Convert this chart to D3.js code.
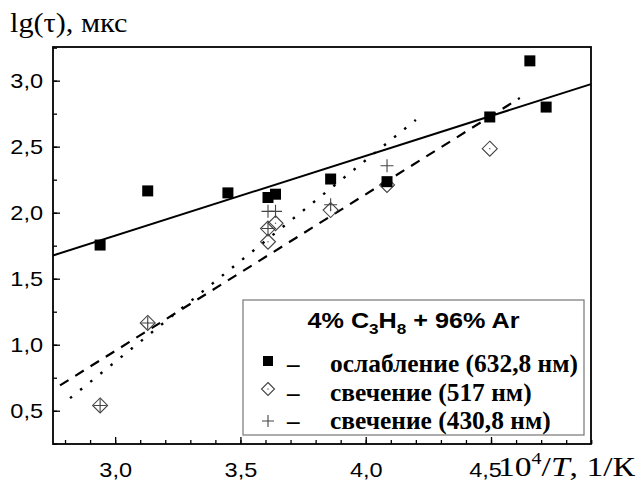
<!DOCTYPE html>
<html>
<head>
<meta charset="utf-8">
<script src="https://cdn.jsdelivr.net/npm/d3@7"></script>
<style>
  body { margin: 0; background: #fff; }
  svg { display: block; }
</style>
</head>
<body>
<div id="chart"></div>
<script>
const width = 639;
const height = 484;

// ослабление (632,8 нм) - black squares
const attX = [2.94, 3.13, 3.45, 3.61, 3.64, 3.86, 4.085, 4.495, 4.655, 4.72];
const attY = [1.755, 2.165, 2.15, 2.115, 2.14, 2.255, 2.235, 2.725, 3.15, 2.80];

// свечение (517 нм) - open diamonds
const g517X = [2.94, 3.13, 3.61, 3.61, 3.64, 3.86, 4.085, 4.495];
const g517Y = [0.54, 1.165, 1.78, 1.88, 1.92, 2.02, 2.21, 2.485];

// свечение (430,8 нм) - plus signs
const g430X = [2.94, 3.13, 3.61, 3.61, 3.64, 3.86, 4.085];
const g430Y = [0.54, 1.165, 1.88, 2.01, 2.01, 2.06, 2.355];

// fitted lines (end points)
const fitAttX = [2.752, 4.899];
const fitAttY = [1.676, 2.974];
const fit517X = [2.78, 4.615];
const fit517Y = [0.692, 2.869];
const fit430X = [2.82, 4.2];
const fit430Y = [0.595, 2.703];

// ticks
const xMajor = [3.0, 3.5, 4.0, 4.5];
const yMajor = [0.5, 1.0, 1.5, 2.0, 2.5, 3.0];

const legendItems = ["ослабление (632,8 нм)", "свечение (517 нм)", "свечение (430,8 нм)"];

const margin = { left: 53, right: 48, top: 47, bottom: 40 };

const svg = d3.select("#chart")
  .append("svg")
  .attr("width", width)
  .attr("height", height);

const x = d3.scaleLinear()
  .domain([2.752, 4.899])
  .range([margin.left, width - margin.right]);

const y = d3.scaleLinear()
  .domain([0.248, 3.255])
  .range([height - margin.bottom, margin.top]);

const fmt = d => d.toFixed(1).replace(".", ",");

// stretch text horizontally a bit, the source picture is wide
function stretch(sel, k) {
  sel.each(function() {
    const w = this.getComputedTextLength();
    d3.select(this).attr("textLength", w * k).attr("lengthAdjust", "spacingAndGlyphs");
  });
}

// minor ticks
svg.append("g")
  .attr("transform", `translate(0,${height - margin.bottom})`)
  .call(d3.axisBottom(x).tickValues(d3.range(2.8, 4.9, 0.1)).tickSize(-4).tickFormat(""))
  .call(g => g.select(".domain").remove());

svg.append("g")
  .attr("transform", `translate(${margin.left},0)`)
  .call(d3.axisLeft(y).tickValues(d3.range(0.25, 3.26, 0.25)).tickSize(-4).tickFormat(""))
  .call(g => g.select(".domain").remove());

// major ticks and labels
const xAxisG = svg.append("g")
  .attr("transform", `translate(0,${height - margin.bottom})`)
  .call(d3.axisBottom(x).tickValues(xMajor).tickSize(-7).tickPadding(18).tickFormat(fmt))
  .call(g => g.select(".domain").remove());

const yAxisG = svg.append("g")
  .attr("transform", `translate(${margin.left},0)`)
  .call(d3.axisLeft(y).tickValues(yMajor).tickSize(-7).tickPadding(10).tickFormat(fmt))
  .call(g => g.select(".domain").remove());

[xAxisG, yAxisG].forEach(g => {
  g.selectAll("text")
    .attr("fill", "#000")
    .style("font-family", "'Liberation Sans', Arial, sans-serif")
    .style("font-size", "21px");
});
svg.selectAll(".tick line").attr("stroke", "#000").attr("stroke-width", 1.3);
stretch(xAxisG.selectAll("text"), 1.12);
stretch(yAxisG.selectAll("text"), 1.12);
// last x label sits tight against the axis title
xAxisG.selectAll(".tick").filter(d => d === 4.5).select("text").attr("x", -6);

// frame
svg.append("rect")
  .attr("x", margin.left)
  .attr("y", margin.top)
  .attr("width", width - margin.left - margin.right)
  .attr("height", height - margin.top - margin.bottom)
  .attr("fill", "none")
  .attr("stroke", "#000")
  .attr("stroke-width", 1.8);

// fit lines
const line = d3.line().x(d => x(d[0])).y(d => y(d[1]));

svg.append("path")
  .datum(fitAttX.map((v, i) => [v, fitAttY[i]]))
  .attr("d", line)
  .attr("fill", "none")
  .attr("stroke", "#000")
  .attr("stroke-width", 2);

svg.append("path")
  .datum(fit517X.map((v, i) => [v, fit517Y[i]]))
  .attr("d", line)
  .attr("fill", "none")
  .attr("stroke", "#000")
  .attr("stroke-width", 2.2)
  .attr("stroke-dasharray", "10,8");

svg.append("path")
  .datum(fit430X.map((v, i) => [v, fit430Y[i]]))
  .attr("d", line)
  .attr("fill", "none")
  .attr("stroke", "#000")
  .attr("stroke-width", 2.4)
  .attr("stroke-dasharray", "2.5,10.5");

// markers
function drawDiamond(g, cx, cy, r) {
  g.append("path")
    .attr("d", `M${cx},${cy - r}L${cx + r},${cy}L${cx},${cy + r}L${cx - r},${cy}Z`)
    .attr("fill", "none")
    .attr("stroke", "#444")
    .attr("stroke-width", 1.1);
  g.append("rect")
    .attr("x", cx - 0.6).attr("y", cy - 0.6)
    .attr("width", 1.2).attr("height", 1.2)
    .attr("fill", "#555");
}

function drawPlus(g, cx, cy, r) {
  g.append("path")
    .attr("d", `M${cx - r},${cy}H${cx + r}M${cx},${cy - r}V${cy + r}`)
    .attr("stroke", "#444")
    .attr("stroke-width", 1.1);
}

const marks = svg.append("g");

g517X.forEach((v, i) => drawDiamond(marks, x(v), y(g517Y[i]), 7.5));
g430X.forEach((v, i) => drawPlus(marks, x(v), y(g430Y[i]), 6.5));

marks.selectAll(".sq")
  .data(attX.map((v, i) => [v, attY[i]]))
  .enter()
  .append("rect")
  .attr("class", "sq")
  .attr("x", d => x(d[0]) - 5.5)
  .attr("y", d => y(d[1]) - 5.5)
  .attr("width", 11)
  .attr("height", 11)
  .attr("fill", "#000");

// legend
const legend = svg.append("g");

legend.append("rect")
  .attr("x", 243)
  .attr("y", 300)
  .attr("width", 341)
  .attr("height", 135)
  .attr("fill", "#fff")
  .attr("stroke", "#777")
  .attr("stroke-width", 1.2);

const title = legend.append("text")
  .attr("x", 413.5)
  .attr("y", 328)
  .attr("text-anchor", "middle")
  .style("font-family", "'Liberation Sans', Arial, sans-serif")
  .style("font-weight", "bold")
  .style("font-size", "22px");
title.append("tspan").text("4% C");
title.append("tspan").attr("dy", 6).style("font-size", "15px").text("3");
title.append("tspan").attr("dy", -6).text("H");
title.append("tspan").attr("dy", 6).style("font-size", "15px").text("8");
title.append("tspan").attr("dy", -6).text(" + 96% Ar");
title.attr("textLength", 212).attr("lengthAdjust", "spacingAndGlyphs");

const rowBase = [372, 401, 429];
const markY = [361, 389, 421];

legend.append("rect")
  .attr("x", 268 - 5).attr("y", markY[0] - 5)
  .attr("width", 10).attr("height", 10)
  .attr("fill", "#000");
drawDiamond(legend, 268, markY[1], 6.5);
drawPlus(legend, 268, markY[2], 6);

let rowScale = null;
legendItems.forEach((t, i) => {
  legend.append("text")
    .attr("x", 287)
    .attr("y", rowBase[i])
    .style("font-family", "'Liberation Serif', 'Times New Roman', serif")
    .style("font-weight", "bold")
    .style("font-size", "25px")
    .text("–");
  const lt = legend.append("text")
    .attr("x", 330)
    .attr("y", rowBase[i])
    .style("font-family", "'Liberation Serif', 'Times New Roman', serif")
    .style("font-weight", "bold")
    .style("font-size", "25px")
    .text(t);
  if (rowScale === null) rowScale = 248 / lt.node().getComputedTextLength();
  stretch(lt, rowScale);
});

// axis titles
const yTitle = svg.append("text")
  .attr("x", 10)
  .attr("y", 32)
  .style("font-family", "'Liberation Serif', 'Times New Roman', serif")
  .style("font-size", "28px")
  .text("lg(τ), мкс");
stretch(yTitle, 1.08);

const xTitle = svg.append("text")
  .attr("x", 498)
  .attr("y", 476)
  .style("font-family", "'Liberation Serif', 'Times New Roman', serif")
  .style("font-size", "27px");
xTitle.append("tspan").text("10");
xTitle.append("tspan").attr("dy", -12).style("font-size", "16px").text("4");
xTitle.append("tspan").attr("dy", 12).text("/");
xTitle.append("tspan").style("font-style", "italic").text("T");
xTitle.append("tspan").text(", 1/К");
xTitle.attr("textLength", 137).attr("lengthAdjust", "spacingAndGlyphs");
</script>
</body>
</html>
